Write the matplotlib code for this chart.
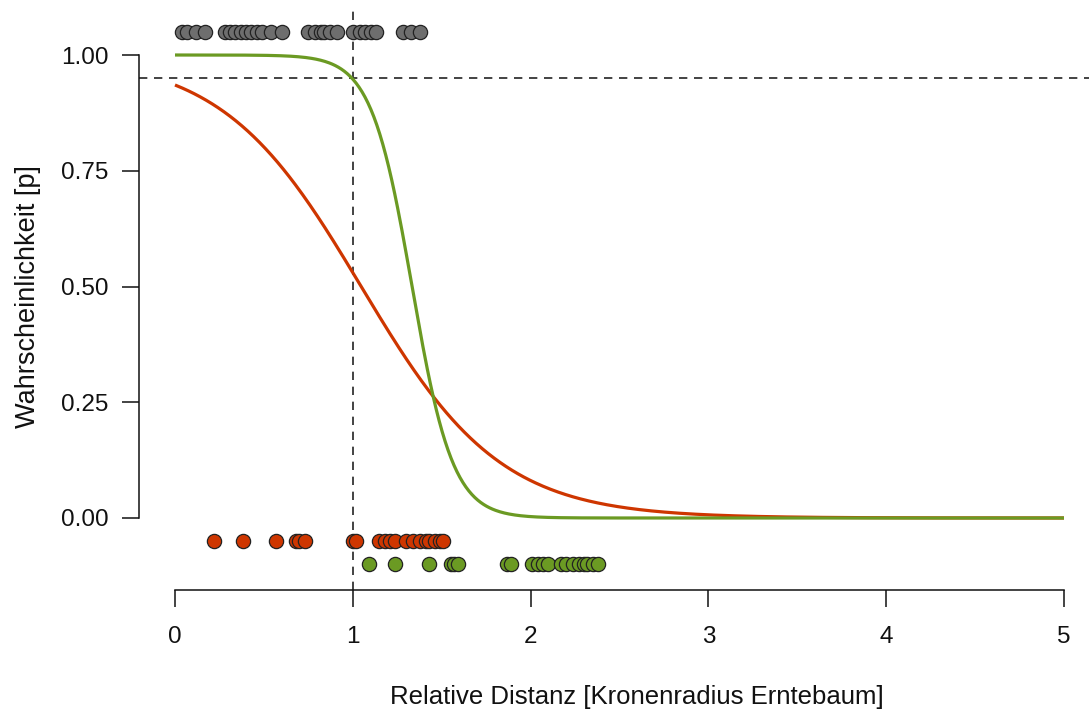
import numpy as np
import matplotlib
matplotlib.use("Agg")
import matplotlib.pyplot as plt

plt.rcParams['font.family'] = ['Liberation Sans', 'DejaVu Sans']

# Observed relative distances (presence row at top, absences per group below)
presence_x = [0.04, 0.07, 0.12, 0.17, 0.28, 0.31, 0.34, 0.37, 0.40, 0.43, 0.46,
              0.49, 0.54, 0.60, 0.75, 0.79, 0.82, 0.84, 0.87, 0.91, 1.00, 1.04,
              1.07, 1.10, 1.13, 1.28, 1.33, 1.38]
red_x = [0.22, 0.38, 0.57, 0.68, 0.70, 0.73, 1.00, 1.02, 1.15, 1.18, 1.21, 1.24,
         1.30, 1.34, 1.38, 1.41, 1.43, 1.46, 1.49, 1.51]
green_x = [1.09, 1.24, 1.43, 1.55, 1.57, 1.59, 1.87, 1.89, 2.01, 2.04, 2.07, 2.10,
           2.17, 2.20, 2.24, 2.27, 2.30, 2.32, 2.35, 2.38]

# Row heights for the observation strips
presence_y = 1.05
red_y = -0.05
green_y = -0.10

# Logistic model coefficients (intercept, slope)
red_coef = (2.67, -2.55)
green_coef = (11.6, -8.7)

# Reference lines
p_threshold = 0.95
dist_threshold = 1.0

x_ticks = [0, 1, 2, 3, 4, 5]
y_ticks = [0.0, 0.25, 0.5, 0.75, 1.0]
y_ticklabels = ["0.00", "0.25", "0.50", "0.75", "1.00"]

red_col = "#CE3600"
green_col = "#6B9A23"
gray_col = "#6E6E6E"

W, H = 1089, 717
fig = plt.figure(figsize=(W / 100, H / 100), dpi=100)
left, right, top, bottom = 139, 1089, 8, 590
ax = fig.add_axes([left / W, 1 - bottom / H, (right - left) / W, (bottom - top) / H])

px_per_x = 177.8
xlo = -(175 - left) / px_per_x
xhi = (right - 175) / px_per_x
px_per_y = 463.0
ylo = -(bottom - 518) / px_per_y
yhi = (518 - top) / px_per_y
ax.set_xlim(xlo, xhi)
ax.set_ylim(ylo, yhi)


def logistic(x, coef):
    b0, b1 = coef
    return 1.0 / (1.0 + np.exp(-(b0 + b1 * x)))


xs = np.linspace(0, 5, 600)
ax.plot(xs, logistic(xs, red_coef), color=red_col, lw=2.3, zorder=3,
        solid_capstyle='butt')
ax.plot(xs, logistic(xs, green_coef), color=green_col, lw=2.3, zorder=3,
        solid_capstyle='butt')

ax.axhline(p_threshold, color="#222222", lw=1.2, ls=(0, (5, 4)), zorder=2)
ax.axvline(dist_threshold, color="#222222", lw=1.2, ls=(0, (5, 4)), zorder=2)

ms = 105
ax.scatter(presence_x, [presence_y] * len(presence_x), s=ms, c=gray_col,
           edgecolors="#222222", linewidths=0.9, zorder=4)
ax.scatter(red_x, [red_y] * len(red_x), s=ms, c=red_col,
           edgecolors="#222222", linewidths=0.9, zorder=4)
ax.scatter(green_x, [green_y] * len(green_x), s=ms, c=green_col,
           edgecolors="#222222", linewidths=0.9, zorder=4)

for s in ["top", "right"]:
    ax.spines[s].set_visible(False)
ax.spines["left"].set_bounds(0, 1)
ax.spines["bottom"].set_bounds(0, 5)
for s in ["left", "bottom"]:
    ax.spines[s].set_linewidth(1.1)
    ax.spines[s].set_color("#111111")

ax.set_xticks(x_ticks)
ax.set_xticklabels([str(t) for t in x_ticks])
ax.set_yticks(y_ticks)
ax.set_yticklabels(y_ticklabels)
ax.tick_params(axis="both", direction="out", length=12, width=1.1,
               labelsize=17.5, colors="#111111")
ax.tick_params(axis="x", pad=14)
ax.tick_params(axis="y", pad=10)

ax.set_xlabel("Relative Distanz [Kronenradius Erntebaum]", fontsize=18.5,
              color="#111111")
ax.set_ylabel("Wahrscheinlichkeit [p]", fontsize=19.5, color="#111111")
ax.xaxis.set_label_coords(0.524, -0.184)
ax.xaxis.label.set_va("center")
ax.yaxis.set_label_coords(-0.117, 0.505)
ax.yaxis.label.set_va("center")

fig.savefig("out.png", dpi=100)
